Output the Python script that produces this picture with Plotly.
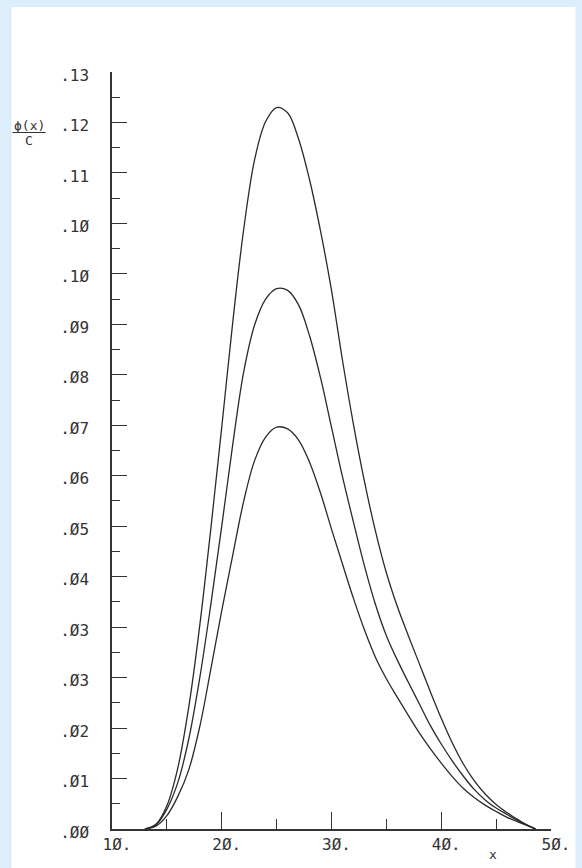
import plotly.graph_objects as go

# ---- data (values estimated at each x) ----
x_vals = [13, 14, 15, 16, 17, 18, 19, 20, 21, 22, 23, 24, 25, 26, 27, 28, 29, 30, 31,
          32, 33, 34, 35, 36, 37, 38, 39, 40, 41, 42, 43, 44, 45, 46, 47, 48, 48.6]

y_top = [0.0, 0.0008, 0.0040, 0.0105, 0.0210, 0.0350, 0.0515, 0.0690, 0.0870, 0.1030,
         0.1150, 0.1215, 0.1239, 0.1230, 0.1185, 0.1115, 0.1027, 0.0925, 0.0805,
         0.0695, 0.0597, 0.0512, 0.0440, 0.0382, 0.0332, 0.0284, 0.0236, 0.0190,
         0.0148, 0.0112, 0.0083, 0.0060, 0.0042, 0.0028, 0.0016, 0.0005, 0.0]

y_mid = [0.0, 0.0007, 0.0034, 0.0080, 0.0155, 0.0260, 0.0385, 0.0520, 0.0660, 0.0785,
         0.0866, 0.0910, 0.0928, 0.0925, 0.0900, 0.0847, 0.0775, 0.0690, 0.0605,
         0.0527, 0.0452, 0.0386, 0.0332, 0.0290, 0.0252, 0.0215, 0.0178, 0.0146,
         0.0117, 0.0091, 0.0068, 0.0050, 0.0036, 0.0025, 0.0014, 0.0005, 0.0]

y_bot = [0.0, 0.0005, 0.0023, 0.0056, 0.0102, 0.0176, 0.0274, 0.0375, 0.0470, 0.0563,
         0.0633, 0.0673, 0.0690, 0.0687, 0.0668, 0.0630, 0.0577, 0.0515, 0.0455,
         0.0396, 0.0342, 0.0295, 0.0258, 0.0226, 0.0195, 0.0165, 0.0138, 0.0113,
         0.0090, 0.0070, 0.0054, 0.0041, 0.0030, 0.0020, 0.0012, 0.0005, 0.0]

x_tickvals = [10, 20, 30, 40, 50]
x_ticktext = ["1Ø.", "2Ø.", "3Ø.", "4Ø.", "5Ø."]
y_ticktext = [".ØØ", ".Ø1", ".Ø2", ".Ø3", ".Ø3", ".Ø4", ".Ø5", ".Ø6",
              ".Ø7", ".Ø8", ".Ø9", ".1Ø", ".1Ø", ".11", ".12", ".13"]
y_max = 0.13
n_div = 15

# ---- figure ----
W, H = 582, 868
ML, MR, MT, MB = 112, 20, 72, 39
PW, PH = W - ML - MR, H - MT - MB

step = y_max / n_div
y_tickvals = [k * step for k in range(n_div + 1)]
y_minor = [(k + 0.5) * step for k in range(n_div)]

ink = "#2a2a2a"
fig = go.Figure()
for ys in [y_top, y_mid, y_bot]:
    fig.add_trace(go.Scatter(x=x_vals, y=ys, mode="lines",
                             line=dict(color=ink, width=1.3, shape="spline", smoothing=1.0),
                             hoverinfo="skip", showlegend=False))

def px_x(p):
    return (p - ML) / PW

def px_y(p):
    return (H - MB - p) / PH

tick_font = dict(family="DejaVu Sans Mono", size=16, color="#333333")
lab_font = dict(family="DejaVu Sans Mono", size=13, color="#333333")

fig.update_layout(
    width=W, height=H,
    margin=dict(l=ML, r=MR, t=MT, b=MB),
    paper_bgcolor="#dcedfb",
    plot_bgcolor="rgba(0,0,0,0)",
    showlegend=False,
    xaxis=dict(range=[10, 50], showgrid=False, zeroline=False,
               showline=True, linecolor="#333333", linewidth=1.5,
               ticks="inside", ticklen=17, tickwidth=1.2, tickcolor="#333333",
               tickmode="array", tickvals=x_tickvals, ticktext=x_ticktext,
               tickfont=tick_font, ticklabelshift=5,
               minor=dict(ticks="inside", ticklen=10, tickwidth=1.2, tickcolor="#333333",
                          tickvals=[15, 25, 35, 45], showgrid=False)),
    yaxis=dict(range=[0, y_max], showgrid=False, zeroline=False,
               showline=True, linecolor="#333333", linewidth=1.5,
               ticks="inside", ticklen=15, tickwidth=1.2, tickcolor="#333333",
               tickmode="array", tickvals=y_tickvals, ticktext=y_ticktext,
               tickfont=tick_font, ticklabelstandoff=18, ticklabelshift=3,
               minor=dict(ticks="inside", ticklen=8, tickwidth=1.2, tickcolor="#333333",
                          tickvals=y_minor, showgrid=False)),
    shapes=[
        dict(type="rect", xref="paper", yref="paper", layer="below",
             x0=px_x(9), x1=px_x(W + 5), y0=px_y(H + 5), y1=px_y(7),
             fillcolor="white", line=dict(width=0)),
        dict(type="line", xref="paper", yref="paper",
             x0=px_x(10), x1=px_x(44), y0=px_y(132.5), y1=px_y(132.5),
             line=dict(color="#333333", width=1)),
    ],
    annotations=[
        dict(text="ϕ(x)", xref="paper", yref="paper", x=px_x(27), y=px_y(125),
             showarrow=False, font=lab_font, xanchor="center", yanchor="middle"),
        dict(text="C", xref="paper", yref="paper", x=px_x(27), y=px_y(141),
             showarrow=False, font=lab_font, xanchor="center", yanchor="middle"),
        dict(text="x", xref="paper", yref="paper", x=px_x(503), y=px_y(854),
             showarrow=False, font=lab_font, xanchor="center", yanchor="middle"),
    ],
)

fig.write_html("out.html")
